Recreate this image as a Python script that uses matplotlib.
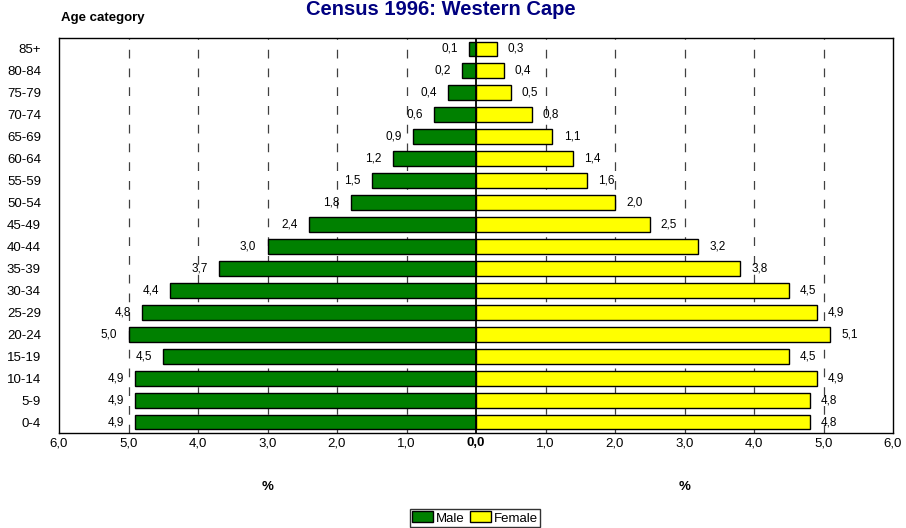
import matplotlib
matplotlib.use("Agg")
import matplotlib.pyplot as plt
import numpy as np

plt.rcParams['font.family'] = ['Liberation Sans Narrow', 'Liberation Sans', 'DejaVu Sans']

# age groups from youngest to oldest
ages = ['0-4', '5-9', '10-14', '15-19', '20-24', '25-29', '30-34', '35-39', '40-44',
        '45-49', '50-54', '55-59', '60-64', '65-69', '70-74', '75-79', '80-84', '85+']
male = [4.9, 4.9, 4.9, 4.5, 5.0, 4.8, 4.4, 3.7, 3.0, 2.4, 1.8, 1.5, 1.2, 0.9, 0.6, 0.4, 0.2, 0.1]
female = [4.8, 4.8, 4.9, 4.5, 5.1, 4.9, 4.5, 3.8, 3.2, 2.5, 2.0, 1.6, 1.4, 1.1, 0.8, 0.5, 0.4, 0.3]
xticks = [-6, -5, -4, -3, -2, -1, 0, 1, 2, 3, 4, 5, 6]


def fmt(v):
    return ('%.1f' % abs(v)).replace('.', ',')


fig = plt.figure(figsize=(9.06, 5.28), dpi=100)
ax = fig.add_axes([59 / 906, 95 / 528, 834 / 906, 395 / 528])

y = np.arange(len(ages))
mbars = ax.barh(y, [-m for m in male], height=0.68, color='#008000', edgecolor='black',
                linewidth=1, zorder=3, label='Male')
fbars = ax.barh(y, female, height=0.68, color='#FFFF00', edgecolor='black',
                linewidth=1, zorder=3, label='Female')

# data labels
for yi, m, f in zip(y, male, female):
    ax.annotate(fmt(m), (-m, yi), xytext=(-8, 0), textcoords='offset points',
                ha='right', va='center', fontsize=8.5)
    ax.annotate(fmt(f), (f, yi), xytext=(8, 0), textcoords='offset points',
                ha='left', va='center', fontsize=8.5)

# dashed gridlines behind the bars
for t in xticks:
    if t in (-6, 0, 6):
        continue
    ax.axvline(t, color='#404040', linestyle=(0, (7, 8)), linewidth=0.9, zorder=1)
ax.axvline(0, color='black', linewidth=1.3, zorder=4)

ax.set_xlim(-6, 6)
ax.set_ylim(-0.5, len(ages) - 0.5)
ax.set_yticks(y)
ax.set_yticklabels(ages, fontsize=9.5)
ax.set_xticks(xticks)
ax.set_xticklabels([fmt(t) for t in xticks], fontsize=9.5)
for lab in ax.get_xticklabels():
    if lab.get_text() == '0,0':
        lab.set_fontweight('bold')
ax.tick_params(axis='y', length=0, pad=13)
ax.tick_params(axis='x', length=0, pad=3)
for s in ax.spines.values():
    s.set_linewidth(1)

fig.text(0.487, 1.0, 'Census 1996: Western Cape', ha='center', va='top',
         fontsize=14.5, fontweight='bold', color='#000080')
fig.text(61 / 906, 0.966, 'Age category', ha='left', va='center', fontsize=9.5, fontweight='bold')
for xv in (-3, 3):
    x_fig = (59 + (xv + 6) / 12 * 834) / 906
    fig.text(x_fig, 41 / 528, '%', ha='center', va='center', fontsize=9.5, fontweight='bold')

leg = fig.legend(handles=[mbars, fbars], loc='center', bbox_to_anchor=(475 / 906, 10 / 528),
                 ncol=2, frameon=True, fancybox=False, fontsize=9.5, handlelength=1.6,
                 handleheight=0.9, handletextpad=0.2, columnspacing=0.4, borderpad=0.2)
leg.get_frame().set_edgecolor('black')
leg.get_frame().set_linewidth(1)

fig.savefig('out.png', dpi=100)
